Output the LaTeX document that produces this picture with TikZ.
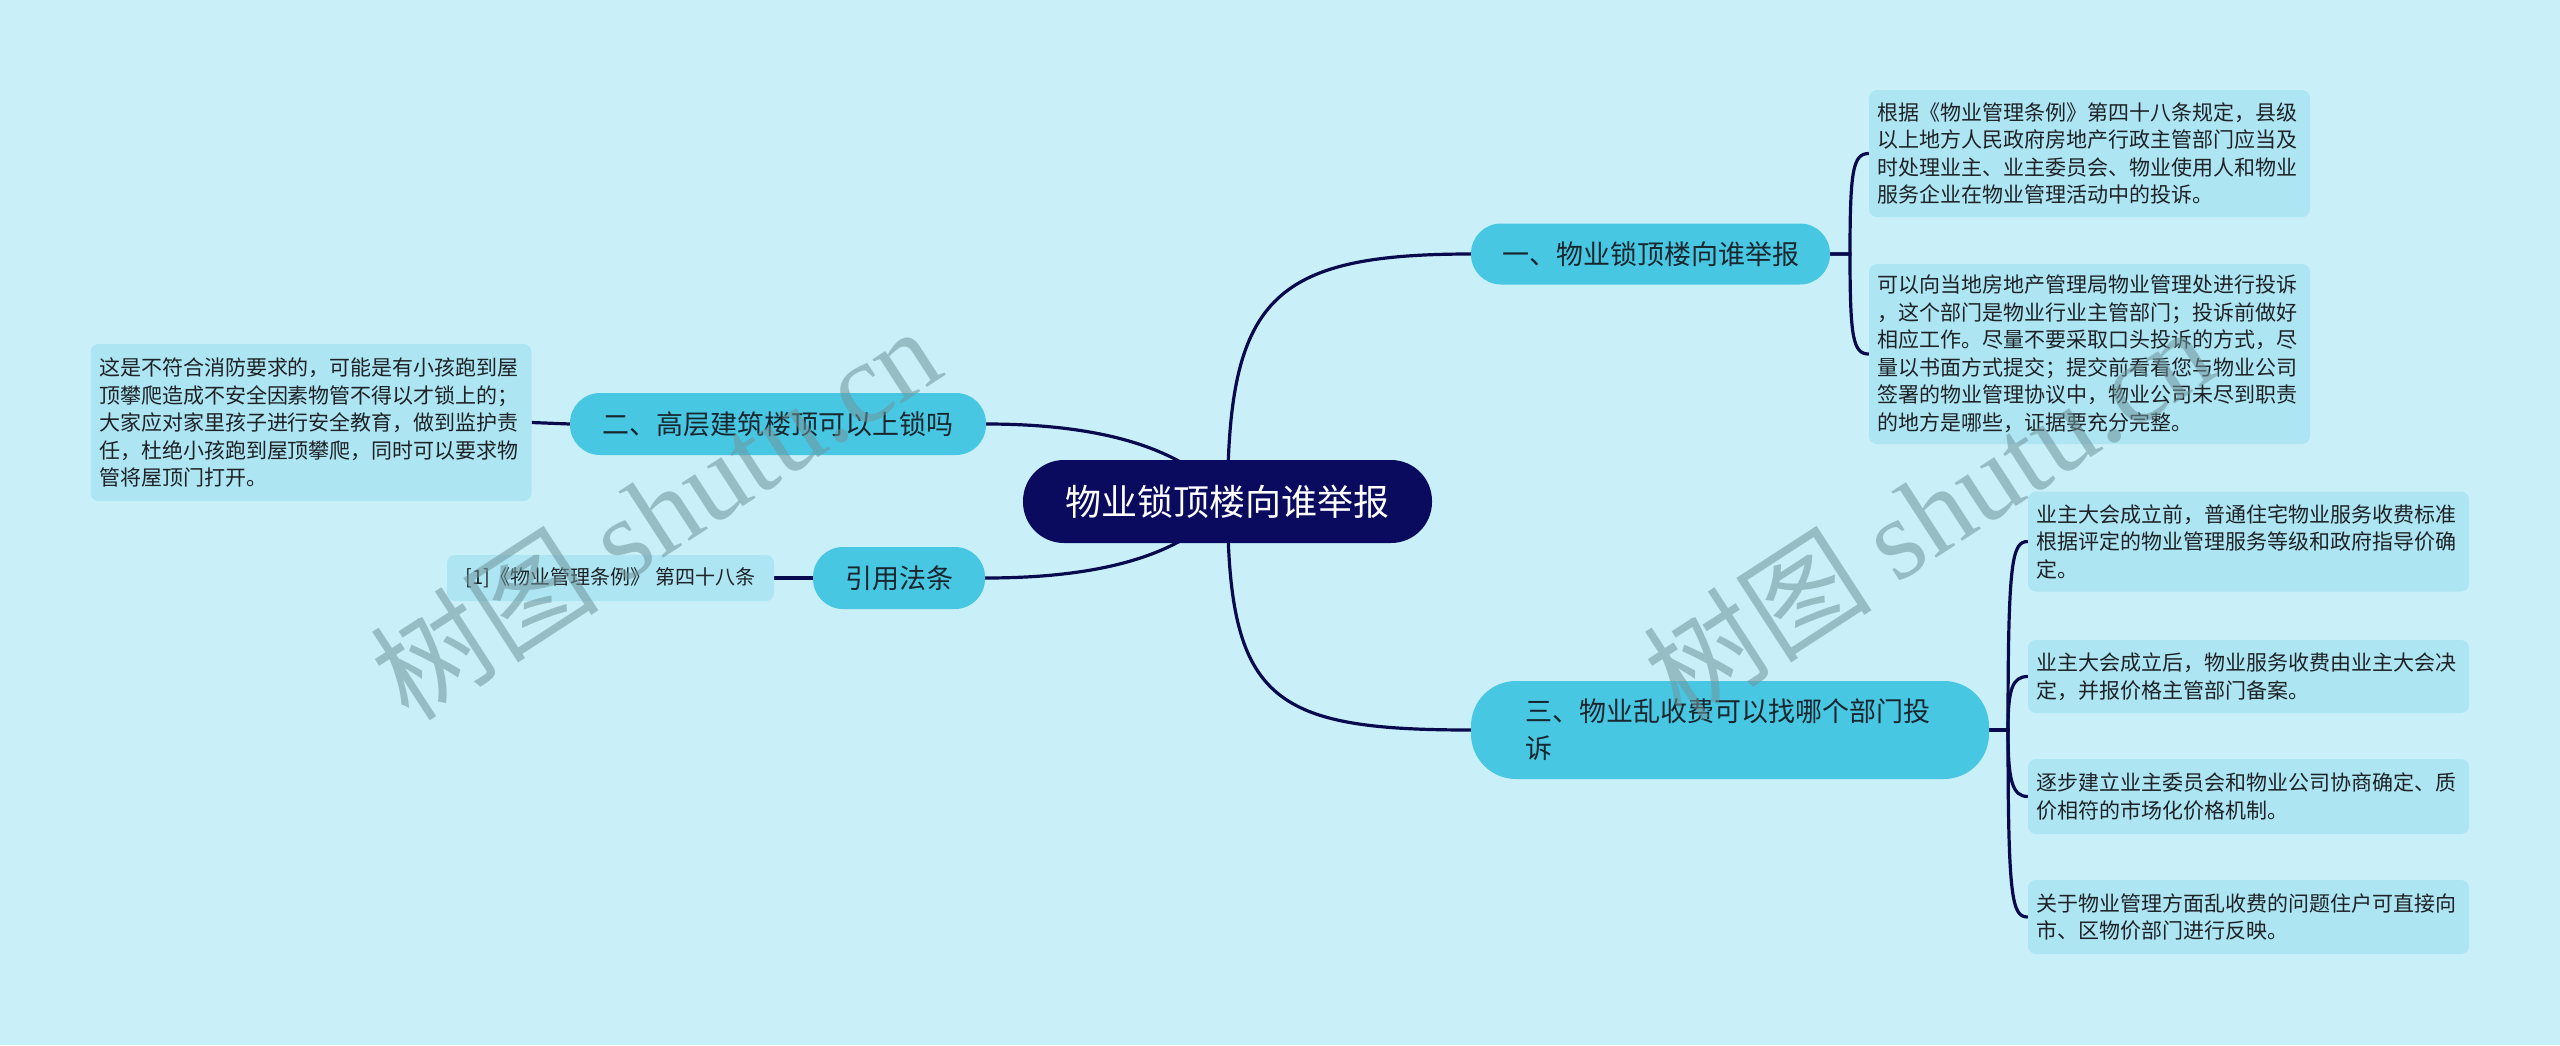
\documentclass[tikz,border=0pt]{standalone}
\usepackage{fontspec}
\setmainfont{Noto Sans CJK SC}
\newfontfamily\wmfont{Liberation Serif}
\pgfdeclarelayer{bgl}
\pgfdeclarelayer{edgel}
\pgfdeclarelayer{fgl}
\pgfsetlayers{bgl,edgel,main,fgl}
\definecolor{bgc}{HTML}{C9F0F8}
\definecolor{brc}{HTML}{48C7E3}
\definecolor{leafc}{HTML}{ADE5F3}
\definecolor{rootc}{HTML}{0A0B5E}
\definecolor{edgec}{HTML}{090A4E}
\definecolor{txtc}{HTML}{1E2226}
\definecolor{btxt}{HTML}{18262E}
\definecolor{wmc}{HTML}{6F949B}
\tikzset{
  leaf/.style={fill=leafc, rounded corners=8pt, text width=424pt, inner xsep=8.5pt, inner ysep=0pt, align=left, text=txtc, font=\fontsize{21}{27.5}\selectfont},
  branch/.style={fill=brc, rounded corners=30pt, text=btxt, inner sep=0pt, minimum height=62pt, font=\fontsize{27}{37}\selectfont},
  rootbox/.style={fill=rootc, rounded corners=41pt, text=white, inner sep=0pt, minimum width=409pt, minimum height=83pt, font=\fontsize{36}{40}\selectfont},
  link/.style={draw=edgec, line width=3.2pt},
  wmark/.style={text=wmc, opacity=0.55, rotate=33, inner sep=0pt, font=\fontsize{115}{115}\selectfont}
}
\begin{document}
\begin{tikzpicture}[x=1pt,y=-1pt]
\begin{pgfonlayer}{bgl}
\fill[bgc] (0,0) rectangle (2560,1045);
\end{pgfonlayer}
\useasboundingbox (0,0) rectangle (2560,1045);

% root
\node[rootbox] (root) at (1227.5,501.5) {物业锁顶楼向谁举报};

% branches
\node[branch, minimum width=359pt, minimum height=61pt] (b1) at (1650.5,254) {一、物业锁顶楼向谁举报};
\node[branch, minimum width=416pt] (b2) at (778,424) {二、高层建筑楼顶可以上锁吗};
\node[branch, minimum width=172pt] (b3) at (899,578) {引用法条};
\node[branch, rounded corners=45pt, minimum width=518pt, minimum height=98pt, text width=410pt, align=left, inner xsep=54pt] (b4) at (1730,730) {三、物业乱收费可以找哪个部门投\\诉};

% leaves of b1
\node[leaf, minimum height=127pt] (l1) at (2089.5,153.5) {根据《物业管理条例》第四十八条规定，县级\\以上地方人民政府房地产行政主管部门应当及\\时处理业主、业主委员会、物业使用人和物业\\服务企业在物业管理活动中的投诉。};
\node[leaf, minimum height=180pt] (l2) at (2089.5,354) {可以向当地房地产管理局物业管理处进行投诉\\，这个部门是物业行业主管部门；投诉前做好\\相应工作。尽量不要采取口头投诉的方式，尽\\量以书面方式提交；提交前看看您与物业公司\\签署的物业管理协议中，物业公司未尽到职责\\的地方是哪些，证据要充分完整。};

% leaf of b2
\node[leaf, minimum height=157pt] (l3) at (311,422.5) {这是不符合消防要求的，可能是有小孩跑到屋\\顶攀爬造成不安全因素物管不得以才锁上的；\\大家应对家里孩子进行安全教育，做到监护责\\任，杜绝小孩跑到屋顶攀爬，同时可以要求物\\管将屋顶门打开。};

% leaf of b3
\node[fill=leafc, rounded corners=8pt, inner sep=0pt, minimum width=327pt, minimum height=46pt, text=txtc, font=\fontsize{20}{24}\selectfont] (l4) at (610.5,578) {[1]《物业管理条例》 第四十八条};

% leaves of b4
\node[leaf, minimum height=100pt] (c1) at (2248.5,541.5) {业主大会成立前，普通住宅物业服务收费标准\\根据评定的物业管理服务等级和政府指导价确\\定。};
\node[leaf, minimum height=73pt] (c2) at (2248.5,676.5) {业主大会成立后，物业服务收费由业主大会决\\定，并报价格主管部门备案。};
\node[leaf, minimum height=75pt] (c3) at (2248.5,796.5) {逐步建立业主委员会和物业公司协商确定、质\\价相符的市场化价格机制。};
\node[leaf, minimum height=74pt] (c4) at (2248.5,917) {关于物业管理方面乱收费的问题住户可直接向\\市、区物价部门进行反映。};

\begin{pgfonlayer}{edgel}
\draw[link] (root.center) .. controls (1228,300) and (1270,254) .. (b1.west);
\draw[link] (root.center) .. controls (1228,700) and (1270,730) .. (b4.west);
\draw[link] (root.center) .. controls (1180,440) and (1080,424) .. (b2.east);
\draw[link] (root.center) .. controls (1180,563) and (1080,578) .. (b3.east);
\draw[link] (b2.west) -- (l3.east);
\draw[link] (b3.west) -- (l4.east);
\draw[link] (b1.east) -- (1850,254) .. controls (1850,170) and (1853,153.5) .. (l1.west);
\draw[link] (b1.east) -- (1850,254) .. controls (1850,338) and (1853,354) .. (l2.west);
\draw[link] (b4.east) -- (2008,730) .. controls (2008,560) and (2012,541.5) .. (c1.west);
\draw[link] (b4.east) -- (2008,730) .. controls (2008,690) and (2012,676.5) .. (c2.west);
\draw[link] (b4.east) -- (2008,730) .. controls (2008,780) and (2012,796.5) .. (c3.west);
\draw[link] (b4.east) -- (2008,730) .. controls (2008,900) and (2012,917) .. (c4.west);
\end{pgfonlayer}

\begin{pgfonlayer}{fgl}
\node[wmark] (wm1) at (655,512) {树图 {\wmfont shutu.cn}};
\node[wmark] (wm2) at (1928,512) {树图 {\wmfont shutu.cn}};
\end{pgfonlayer}
\end{tikzpicture}
\end{document}
